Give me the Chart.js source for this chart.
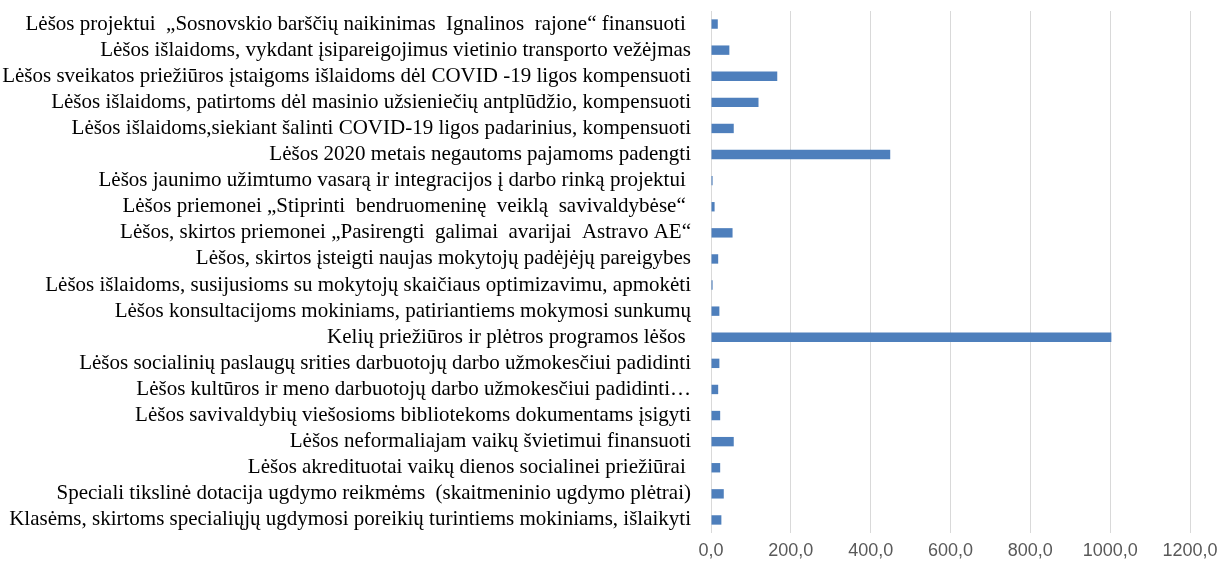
<!DOCTYPE html>
<html>
<head>
<meta charset="utf-8">
<script src="https://cdn.jsdelivr.net/npm/chart.js@4/dist/chart.umd.min.js"></script>
<style>
	body { margin: 0; background: #fff; }
	.grafik-container { position: relative; width: 1222px; height: 568px; }
</style>
</head>
<body>
<div class="grafik-container">
	<canvas id="lesosGrafik"></canvas>
</div>
<script>
// Kategorijos (iš viršaus į apačią)
const kategorijos = [
	'Lėšos projektui  „Sosnovskio barščių naikinimas  Ignalinos  rajone“ finansuoti ',
	'Lėšos išlaidoms, vykdant įsipareigojimus vietinio transporto vežėjmas',
	'Lėšos sveikatos priežiūros įstaigoms išlaidoms dėl COVID -19 ligos kompensuoti',
	'Lėšos išlaidoms, patirtoms dėl masinio užsieniečių antplūdžio, kompensuoti',
	'Lėšos išlaidoms,siekiant šalinti COVID-19 ligos padarinius, kompensuoti',
	'Lėšos 2020 metais negautoms pajamoms padengti',
	'Lėšos jaunimo užimtumo vasarą ir integracijos į darbo rinką projektui ',
	'Lėšos priemonei „Stiprinti  bendruomeninę  veiklą  savivaldybėse“ ',
	'Lėšos, skirtos priemonei „Pasirengti  galimai  avarijai  Astravo AE“',
	'Lėšos, skirtos įsteigti naujas mokytojų padėjėjų pareigybes',
	'Lėšos išlaidoms, susijusioms su mokytojų skaičiaus optimizavimu, apmokėti',
	'Lėšos konsultacijoms mokiniams, patiriantiems mokymosi sunkumų',
	'Kelių priežiūros ir plėtros programos lėšos ',
	'Lėšos socialinių paslaugų srities darbuotojų darbo užmokesčiui padidinti',
	'Lėšos kultūros ir meno darbuotojų darbo užmokesčiui padidinti…',
	'Lėšos savivaldybių viešosioms bibliotekoms dokumentams įsigyti',
	'Lėšos neformaliajam vaikų švietimui finansuoti',
	'Lėšos akredituotai vaikų dienos socialinei priežiūrai ',
	'Speciali tikslinė dotacija ugdymo reikmėms  (skaitmeninio ugdymo plėtrai)',
	'Klasėms, skirtoms specialiųjų ugdymosi poreikių turintiems mokiniams, išlaikyti',
]

// Reikšmės (nuskaitytos nuo grafiko)
const reiksmes = [
	17, 46, 166, 119, 57, 449, 4, 9, 54, 18,
	4, 21, 1003, 21, 18, 23, 57, 23, 32, 26,
]

// X ašies žymės
const asiesZymes = [0, 200, 400, 600, 800, 1000, 1200]

const lesosCtx = document.getElementById('lesosGrafik').getContext('2d')
let lesosChart = new Chart(lesosCtx, {
	type: 'bar',
	data: {
		labels: kategorijos,
		datasets: [
			{
				data: reiksmes,
				backgroundColor: '#4e7fbc',
				borderWidth: 0,
				categoryPercentage: 1,
				barPercentage: 0.36,
			},
		],
	},
	options: {
		indexAxis: 'y',
		responsive: true,
		maintainAspectRatio: false,
		animation: false,
		layout: {
			padding: { top: 11, right: 32, bottom: 0, left: 0 },
		},
		plugins: {
			legend: { display: false },
			tooltip: { enabled: false },
		},
		scales: {
			x: {
				min: asiesZymes[0],
				max: asiesZymes[asiesZymes.length - 1],
				afterBuildTicks: (scale) => {
					scale.ticks = asiesZymes.map((v) => ({ value: v }))
				},
				afterFit: (scale) => {
					scale.height = 35
					scale.paddingLeft = 0
					scale.paddingRight = 0
				},
				grid: {
					color: '#d9d9d9',
					lineWidth: 1,
					drawTicks: false,
				},
				border: { display: false },
				ticks: {
					padding: 7,
					color: '#595959',
					font: { family: 'Liberation Sans', size: 18 },
					callback: (v) => Number(v).toFixed(1).replace('.', ','),
				},
			},
			y: {
				afterFit: (scale) => {
					scale.width = 711 // Grafiko kairysis kraštas
					scale.paddingTop = 0
					scale.paddingBottom = 0
				},
				grid: { display: false, drawTicks: false },
				border: { display: false },
				ticks: {
					autoSkip: false,
					padding: 20,
					color: '#000',
					font: { family: 'Liberation Serif', size: 21 },
				},
			},
		},
	},
})
</script>
</body>
</html>
